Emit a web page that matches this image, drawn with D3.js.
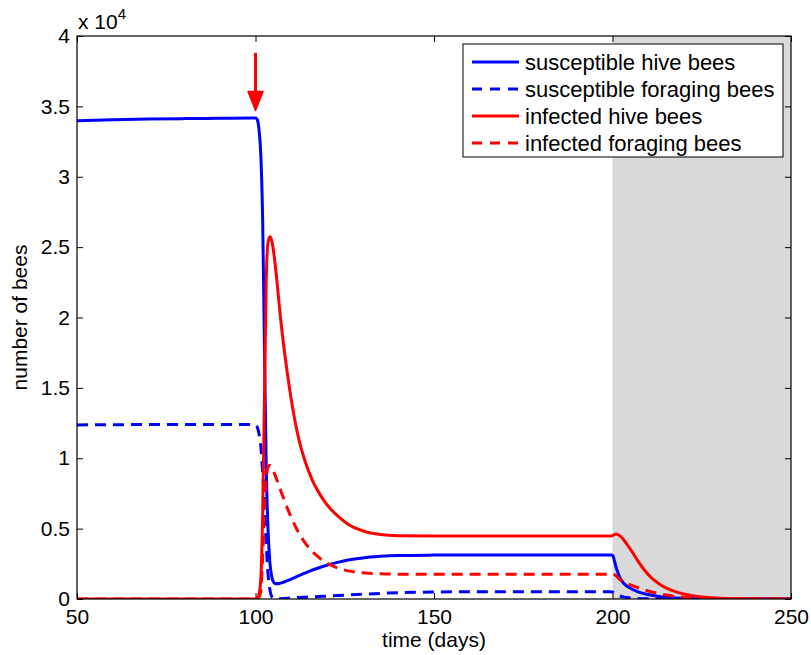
<!DOCTYPE html>
<html>
<head>
<meta charset="utf-8">
<script src="https://cdn.jsdelivr.net/npm/d3@7"></script>
<style>
  html, body { margin: 0; padding: 0; background: #fff; }
  svg { display: block; font-family: "Liberation Sans", Arial, sans-serif; }
</style>
</head>
<body>
<svg id="chart" width="811" height="655"></svg>
<script>
// ---- data ----
const time = [50, 60, 70, 80, 90, 99,
  100, 100.5, 101, 101.5, 102, 102.5, 103, 103.5, 104, 104.5, 105, 105.5, 106,
  107, 108, 109, 110, 112, 114, 116, 118, 120, 123, 126, 130, 135, 140,
  150, 160, 170, 180, 190, 199.5, 200,
  201, 202, 203, 204, 205, 207, 209, 211, 213, 215, 218, 221, 225, 230, 235, 240, 250];

const susceptibleHive = [33980, 34050, 34100, 34130, 34150, 34170,
  34170, 34050, 33300, 31500, 27000, 18000, 9500, 5000, 2700, 1650, 1220, 1100, 1080,
  1130, 1210, 1310, 1420, 1640, 1860, 2060, 2240, 2400, 2600, 2770, 2920, 3030, 3090,
  3120, 3130, 3130, 3130, 3130, 3130, 3110,
  2250, 1550, 1150, 920, 760, 520, 370, 260, 180, 120, 70, 40, 20, 5, 0, 0, 0];

const susceptibleForaging = [12370, 12380, 12400, 12400, 12400, 12400,
  12380, 12200, 11700, 10800, 9000, 6900, 3900, 1800, 700, 200, 60, 15, 5,
  15, 35, 55, 75, 105, 130, 155, 180, 205, 250, 290, 340, 400, 450,
  495, 510, 510, 510, 510, 510, 500,
  350, 220, 150, 100, 70, 40, 20, 10, 5, 0, 0, 0, 0, 0, 0, 0, 0];

const infectedHive = [0, 0, 0, 0, 0, 0,
  0, 60, 350, 1500, 6000, 14000, 22500, 25300, 25740, 25500, 24800, 23800, 22600,
  20000, 17800, 15900, 14200, 11500, 9700, 8400, 7450, 6700, 5900, 5300, 4850, 4580, 4500,
  4480, 4480, 4480, 4480, 4480, 4480, 4500,
  4620, 4500, 4250, 3900, 3550, 2750, 2040, 1480, 1090, 790, 490, 300, 140, 60, 25, 10, 0];

const infectedForaging = [0, 0, 0, 0, 0, 0,
  0, 20, 120, 600, 3000, 6500, 8600, 9350, 9500, 9400, 9100, 8800, 8450,
  7750, 7050, 6400, 5800, 4750, 3950, 3350, 2900, 2550, 2200, 2000, 1860, 1790, 1765,
  1750, 1750, 1750, 1750, 1750, 1750, 1760,
  1650, 1400, 1220, 1100, 1000, 820, 640, 500, 380, 280, 180, 110, 60, 25, 10, 0, 0];

const seriesNames = ["susceptible hive bees", "susceptible foraging bees",
                     "infected hive bees", "infected foraging bees"];
const seriesColors = ["#0000ff", "#0000ff", "#ff0000", "#ff0000"];
const seriesDashed = [false, true, false, true];
const seriesValues = [susceptibleHive, susceptibleForaging, infectedHive, infectedForaging];

const xTicks = [50, 100, 150, 200, 250];
const yTicks = [0, 5000, 10000, 15000, 20000, 25000, 30000, 35000, 40000];
const yTickLabels = ["0", "0.5", "1", "1.5", "2", "2.5", "3", "3.5", "4"];

const shadeRange = [200, 250];          // shaded (winter) period
const arrowTime = 100;                  // infection time marker
const arrowRange = [38800, 34700];      // arrow start / tip (bees)

const xLabel = "time (days)";
const yLabel = "number of bees";

// ---- layout ----
const svg = d3.select("#chart");
const L = 77, R = 791, T = 36, B = 599;
const x = d3.scaleLinear().domain([50, 250]).range([L, R]);
const y = d3.scaleLinear().domain([0, 40000]).range([B, T]);

svg.append("rect").attr("width", 811).attr("height", 655).attr("fill", "#fff");

svg.append("defs").append("clipPath").attr("id", "clip")
  .append("rect").attr("x", L).attr("y", T - 2).attr("width", R - L).attr("height", B - T + 2);

// shaded region
svg.append("rect")
  .attr("x", x(shadeRange[0])).attr("y", T)
  .attr("width", x(shadeRange[1]) - x(shadeRange[0])).attr("height", B - T)
  .attr("fill", "#d9d9d9");

// axes (ticks inward)
const fs = 21;
const gx = svg.append("g").attr("transform", `translate(0,${B})`)
  .call(d3.axisBottom(x).tickValues(xTicks).tickSize(-6).tickPadding(10).tickFormat(d3.format("d")));
const gxt = svg.append("g").attr("transform", `translate(0,${T})`)
  .call(d3.axisTop(x).tickValues(xTicks).tickSize(-6).tickFormat(""));
const gy = svg.append("g").attr("transform", `translate(${L},0)`)
  .call(d3.axisLeft(y).tickValues(yTicks).tickSize(-6).tickPadding(7)
    .tickFormat((d, i) => yTickLabels[i]));
const gyr = svg.append("g").attr("transform", `translate(${R},0)`)
  .call(d3.axisRight(y).tickValues(yTicks).tickSize(-6).tickFormat(""));
[gx, gxt, gy, gyr].forEach(g => {
  g.select(".domain").remove();
  g.selectAll(".tick line").attr("stroke", "#000").attr("stroke-width", 1);
  g.selectAll("text").attr("fill", "#000").attr("font-size", fs)
    .attr("font-family", '"Liberation Sans", Arial, sans-serif');
});

// lines
const line = d3.line().x(d => x(d[0])).y(d => y(d[1])).curve(d3.curveMonotoneX);
const lines = svg.append("g").attr("clip-path", "url(#clip)");
seriesValues.forEach((vals, i) => {
  lines.append("path")
    .datum(time.map((t, j) => [t, vals[j]]))
    .attr("d", line)
    .attr("fill", "none")
    .attr("stroke", seriesColors[i])
    .attr("stroke-width", 3)
    .attr("stroke-linejoin", "round")
    .attr("stroke-dasharray", seriesDashed[i] ? "11,7" : null);
});

// box
svg.append("rect").attr("x", L).attr("y", T).attr("width", R - L).attr("height", B - T)
  .attr("fill", "none").attr("stroke", "#000").attr("stroke-width", 1.2);

// arrow
const ax = x(arrowTime), ay0 = y(arrowRange[0]), ay1 = y(arrowRange[1]);
svg.append("line").attr("x1", ax).attr("x2", ax).attr("y1", ay0).attr("y2", ay1 - 14)
  .attr("stroke", "#ff0000").attr("stroke-width", 3);
svg.append("path")
  .attr("d", `M${ax - 7.5},${ay1 - 19} L${ax + 7.5},${ay1 - 19} L${ax},${ay1} Z`)
  .attr("fill", "#ff0000").attr("stroke", "#ff0000").attr("stroke-width", 1.5)
  .attr("stroke-linejoin", "round");

// exponent label
const ex = svg.append("text").attr("x", L + 1).attr("y", 29).attr("font-size", fs).attr("fill", "#000");
ex.append("tspan").text("x 10");
ex.append("tspan").attr("font-size", 15).attr("dy", -10).text("4");

// axis labels
svg.append("text").attr("x", (L + R) / 2).attr("y", 647).attr("text-anchor", "middle")
  .attr("font-size", fs).attr("fill", "#000").text(xLabel);
svg.append("text").attr("transform", `translate(27,${(T + B) / 2}) rotate(-90)`)
  .attr("text-anchor", "middle").attr("font-size", fs).attr("fill", "#000").text(yLabel);

// legend
const lg = svg.append("g");
lg.append("rect").attr("x", 463).attr("y", 44).attr("width", 320).attr("height", 113)
  .attr("fill", "#fff").attr("stroke", "#000").attr("stroke-width", 1);
seriesNames.forEach((name, i) => {
  const ly = 62 + i * 27;
  lg.append("line").attr("x1", 472).attr("x2", 519).attr("y1", ly).attr("y2", ly)
    .attr("stroke", seriesColors[i]).attr("stroke-width", 3)
    .attr("stroke-dasharray", seriesDashed[i] ? "10,8" : null);
  lg.append("text").attr("x", 525).attr("y", ly).attr("dy", "0.35em")
    .attr("font-size", 22).attr("fill", "#000").text(name);
});
</script>
</body>
</html>
